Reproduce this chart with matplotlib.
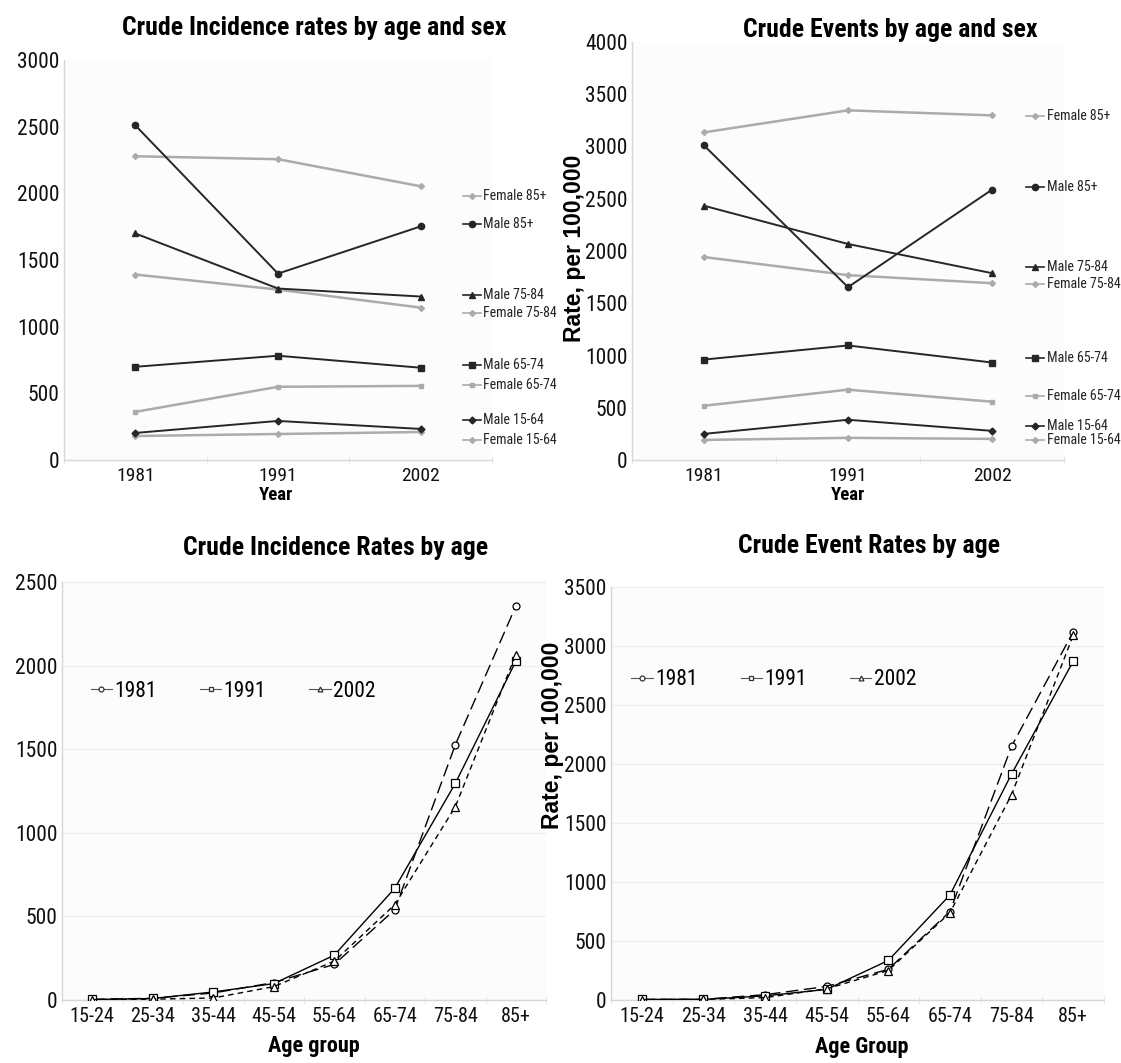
import os
import matplotlib
matplotlib.use('Agg')
import matplotlib.pyplot as plt
from matplotlib import font_manager
from matplotlib.font_manager import FontProperties
import matplotlib.transforms as mtransforms

# ---------------- DATA ----------------
years = ['1981', '1991', '2002']
age_groups = ['15-24', '25-34', '35-44', '45-54', '55-64', '65-74', '75-84', '85+']

sex_series = ['Female 85+', 'Male 85+', 'Male 75-84', 'Female 75-84',
              'Male 65-74', 'Female 65-74', 'Male 15-64', 'Female 15-64']

inc_female_85 = [2278, 2256, 2053]
inc_male_85 = [2510, 1398, 1752]
inc_male_75 = [1699, 1286, 1226]
inc_female_75 = [1391, 1278, 1143]
inc_male_65 = [699, 782, 692]
inc_female_65 = [361, 549, 556]
inc_male_15 = [203, 293, 233]
inc_female_15 = [180, 195, 210]

evt_female_85 = [3135, 3346, 3298]
evt_male_85 = [3010, 1654, 2587]
evt_male_75 = [2433, 2067, 1788]
evt_female_75 = [1942, 1769, 1692]
evt_male_65 = [961, 1096, 933]
evt_female_65 = [519, 673, 558]
evt_male_15 = [250, 385, 279]
evt_female_15 = [192, 212, 202]

inc_age_1981 = [4, 10, 42, 104, 213, 540, 1525, 2355]
inc_age_1991 = [3, 9, 48, 98, 268, 668, 1295, 2025]
inc_age_2002 = [2, 5, 12, 80, 232, 570, 1155, 2065]

evt_age_1981 = [5, 6, 45, 115, 260, 750, 2150, 3120]
evt_age_1991 = [5, 5, 35, 90, 335, 890, 1915, 2870]
evt_age_2002 = [4, 5, 20, 95, 250, 740, 1740, 3090]

# ---------------- FONTS ----------------
W, H = 1121, 1063
BAD_REG = ('bold', 'italic', 'oblique', 'light', 'thin', 'medium', 'black',
           'semi', 'extra', 'heavy', '[')
BAD_BOLD = ('italic', 'oblique', 'semi', 'extra', 'light', '[', 'extrabold')
PRIORITY = ['liberationsansnarrow', 'arialnarrow', 'arial narrow', 'robotocondensed',
            'notosans-condensed', 'opensans-condensed', 'opensanscondensed',
            'dejavusanscondensed', 'latocondensed', 'condensed', 'narrow']


def find_font(bold):
    files = [f.fname for f in font_manager.fontManager.ttflist]
    for key in PRIORITY:
        for fn in files:
            b = os.path.basename(fn).lower()
            if key not in b.replace(' ', '') and key not in b:
                continue
            if bold:
                if 'bold' in b and not any(x in b for x in BAD_BOLD):
                    return fn
            else:
                if not any(x in b for x in BAD_REG):
                    return fn
    return None


REG_FILE = find_font(False)
BOLD_FILE = find_font(True)
fs = 1.0 if REG_FILE else 0.85


def fp(size, bold=False):
    f = BOLD_FILE if bold else REG_FILE
    if f:
        return FontProperties(fname=f, size=size)
    return FontProperties(family='Liberation Sans', weight='bold' if bold else 'normal',
                          size=size * fs)


WIDE_BOLD = FontProperties(family='Liberation Sans', weight='bold', size=16.5)

# ---------------- LAYOUT / STYLE ----------------
MALE = '#262626'
FEMALE = '#ababab'
SPINE = '#d6d6d6'
FACE = '#fcfcfc'

sex_styles = {
    'Female 85+': (FEMALE, 'D', 3.0),
    'Male 85+': (MALE, 'o', 4.5),
    'Male 75-84': (MALE, '^', 5.0),
    'Female 75-84': (FEMALE, 'D', 3.0),
    'Male 65-74': (MALE, 's', 4.5),
    'Female 65-74': (FEMALE, 's', 3.5),
    'Male 15-64': (MALE, 'D', 3.5),
    'Female 15-64': (FEMALE, 'D', 3.0),
}
inc_label_y = [1980, 1770, 1237, 1102, 712, 562, 300, 150]
evt_label_y = [3292, 2613, 1847, 1684, 976, 612, 325, 191]

fig = plt.figure(figsize=(W / 100, H / 100), dpi=100)
fig.patch.set_facecolor('white')


def px_axes(l, r, t, b):
    return fig.add_axes([l / W, 1 - b / H, (r - l) / W, (b - t) / H])


def style_axes(ax, ncat, grid=False):
    ax.set_facecolor(FACE)
    for s in ['top', 'right']:
        ax.spines[s].set_visible(False)
    for s in ['left', 'bottom']:
        ax.spines[s].set_color(SPINE)
        ax.spines[s].set_linewidth(1.0)
    ax.set_xlim(-0.5, ncat - 0.5)
    ax.set_xticks(range(ncat))
    ax.set_xticks([i + 0.5 for i in range(-1, ncat)], minor=True)
    ax.tick_params(axis='y', which='major', length=0, pad=3)
    ax.tick_params(axis='x', which='major', length=0, pad=5)
    ax.tick_params(axis='x', which='minor', length=6, direction='inout', color='#e3e3e3')
    ax.tick_params(axis='y', which='minor', length=0)
    if grid:
        ax.yaxis.grid(True, color='#eeeeee', linewidth=1.0)
        ax.set_axisbelow(True)


def ticks_font(ax, ysize, xsize):
    for lab in ax.get_yticklabels():
        lab.set_fontproperties(fp(ysize))
        lab.set_color('#111111')
    for lab in ax.get_xticklabels():
        lab.set_fontproperties(fp(xsize))
        lab.set_color('#111111')


def sex_panel(ax, series_vals, label_y, ymax, lab_x0, lab_x1, text_x):
    style_axes(ax, len(years))
    ax.set_ylim(0, ymax)
    ax.set_yticks(range(0, ymax + 1, 500))
    ax.set_xticklabels(years)
    trans = mtransforms.blended_transform_factory(ax.transAxes, ax.transData)
    for name, vals, ly in zip(sex_series, series_vals, label_y):
        c, m, ms = sex_styles[name]
        lw = 1.4 if c == MALE else 1.8
        ax.plot(range(len(years)), vals, color=c, lw=lw, marker=m, ms=ms,
                mfc=c, mec=c, zorder=3 if c == MALE else 2)
        ax.plot([lab_x0, (lab_x0 + lab_x1) / 2, lab_x1], [ly, ly, ly], color=c, lw=1.2,
                marker=m, ms=ms, markevery=[1], mfc=c, mec=c,
                transform=trans, clip_on=False)
        ax.text(text_x, ly, name, transform=trans, va='center', ha='left',
                fontproperties=fp(10), color='#222222')
    ticks_font(ax, 15.5, 14)


# ---- Top-left ----
ax1 = px_axes(64, 492, 60, 460)
sex_panel(ax1,
          [inc_female_85, inc_male_85, inc_male_75, inc_female_75,
           inc_male_65, inc_female_65, inc_male_15, inc_female_15],
          inc_label_y, 3000, 0.933, 0.974, 0.980)
fig.text(314 / W, 1 - 28 / H, 'Crude Incidence rates by age and sex', ha='center',
         va='center', fontproperties=fp(18.5, True))
fig.text(276 / W, 1 - 495 / H, 'Year', ha='center', va='center', fontproperties=fp(13.5, True))

# ---- Top-right ----
ax2 = px_axes(632, 1064, 42, 460)
sex_panel(ax2,
          [evt_female_85, evt_male_85, evt_male_75, evt_female_75,
           evt_male_65, evt_female_65, evt_male_15, evt_female_15],
          evt_label_y, 4000, 0.912, 0.954, 0.961)
fig.text(890 / W, 1 - 30 / H, 'Crude Events by age and sex', ha='center', va='center',
         fontproperties=fp(18.5, True))
fig.text(848 / W, 1 - 495 / H, 'Year', ha='center', va='center', fontproperties=fp(13.5, True))
fig.text(574 / W, 1 - 248 / H, 'Rate, per 100,000', ha='center', va='center', rotation=90,
         fontproperties=WIDE_BOLD)


def age_panel(ax, s1981, s1991, s2002, ymax, leg_xy):
    style_axes(ax, len(age_groups), grid=True)
    ax.set_ylim(0, ymax)
    ax.set_yticks(range(0, ymax + 1, 500))
    ax.set_xticklabels(age_groups)
    x = range(len(age_groups))
    kw = dict(color='black', lw=1.0, mfc='white', mec='black', mew=0.9, zorder=3)
    ax.plot(x, s1981, marker='o', ms=5, dashes=(9, 4), label='1981', **kw)
    ax.plot(x, s1991, marker='s', ms=6, linestyle='-', label='1991', **kw)
    ax.plot(x, s2002, marker='^', ms=5.5, dashes=(4, 3), label='2002', **kw)
    leg = ax.legend(ncol=3, frameon=False, loc='center', bbox_to_anchor=leg_xy,
                    handlelength=1.0, handletextpad=0.1, columnspacing=2.0,
                    prop=fp(15.5))
    for h in leg.legend_handles:
        h.set_markersize(3.5)
        h.set_linestyle('-')
        h.set_linewidth(0.8)
        h.set_color('#555555')
        h.set_markeredgecolor('#333333')
    ticks_font(ax, 15.5, 14.5)


# ---- Bottom-left ----
ax3 = px_axes(62, 546, 582, 1000)
age_panel(ax3, inc_age_1981, inc_age_1991, inc_age_2002, 2500, (0.353, 0.739))
fig.text(336 / W, 1 - 548 / H, 'Crude Incidence Rates by age', ha='center', va='center',
         fontproperties=fp(18.5, True))
fig.text(314 / W, 1 - 1046 / H, 'Age group', ha='center', va='center',
         fontproperties=fp(16, True))

# ---- Bottom-right ----
ax4 = px_axes(611, 1104, 587, 1000)
age_panel(ax4, evt_age_1981, evt_age_1991, evt_age_2002, 3500, (0.33, 0.775))
fig.text(869 / W, 1 - 546 / H, 'Crude Event Rates by age', ha='center', va='center',
         fontproperties=fp(18.5, True))
fig.text(862 / W, 1 - 1047 / H, 'Age Group', ha='center', va='center',
         fontproperties=fp(16, True))
fig.text(553 / W, 1 - 735 / H, 'Rate, per 100,000', ha='center', va='center', rotation=90,
         fontproperties=WIDE_BOLD)

fig.savefig('out.png', dpi=100, facecolor='white')
